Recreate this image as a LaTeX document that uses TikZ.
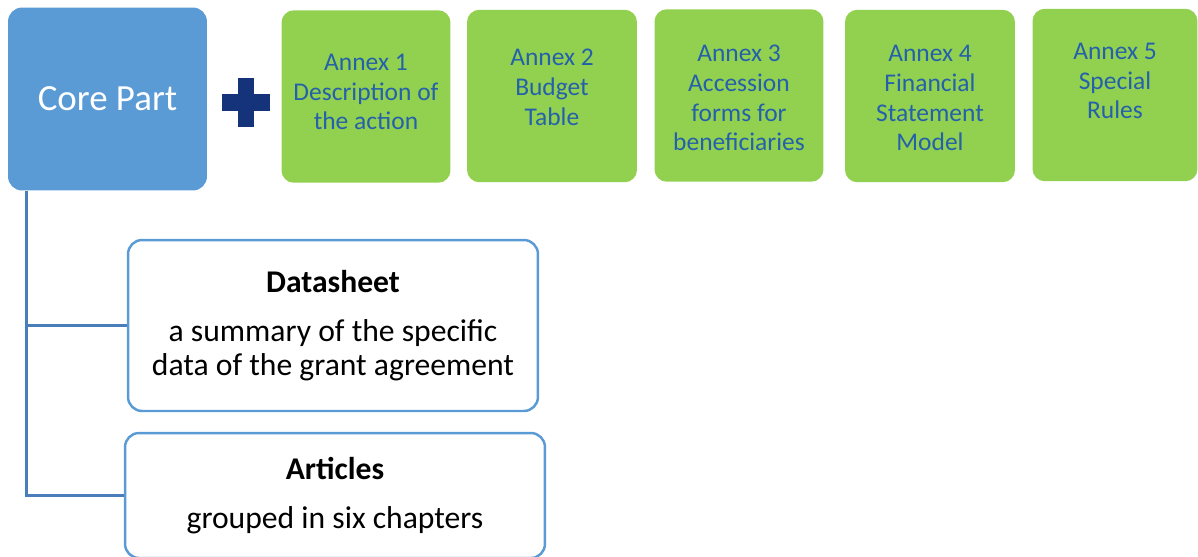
\documentclass[tikz,border=0pt]{standalone}
\usepackage{fontspec}
\setmainfont{Carlito}
\usetikzlibrary{positioning}
\definecolor{coreblue}{HTML}{5B9BD5}
\definecolor{linkblue}{HTML}{4A7EBB}
\definecolor{annexgreen}{HTML}{92D050}
\definecolor{annexink}{HTML}{2461AA}
\definecolor{plusnavy}{HTML}{15337A}
\tikzset{
	core/.style={rectangle, rounded corners=8pt, fill=coreblue, text=white, font=\fontsize{21}{25}\selectfont, minimum width=3.98cm, minimum height=3.66cm},
	annexbox/.style={rectangle, rounded corners=7pt, fill=annexgreen, minimum width=3.38cm, minimum height=3.45cm},
	annexlbl/.style={align=center, text=annexink, font=\fontsize{14.5}{17}\selectfont, inner sep=0pt},
	partbox/.style={rectangle, rounded corners=8pt, draw=coreblue, line width=1.4pt, fill=white, align=center, font=\fontsize{18}{19.3}\selectfont},
	link/.style={draw=linkblue, line width=1.6pt}
}

\begin{document}
\begin{tikzpicture}[x=0.02cm, y=-0.02cm]
	\useasboundingbox (0,0) rectangle (1198,556);
	\node[core] (core) at (107.5,99) {Core Part};
	% plus sign
	\fill[plusnavy] (238,78) rectangle (254,127);
	\fill[plusnavy] (222,94) rectangle (270,111);
	% annexes
	\node[annexbox] (a1) at (366,96.5) {};
	\node[annexbox, minimum width=3.40cm] (a2) at (552,96) {};
	\node[annexbox] (a3) at (739,95.5) {};
	\node[annexbox, minimum width=3.40cm] (a4) at (930,96) {};
	\node[annexbox, minimum width=3.30cm] (a5) at (1115,95) {};
	\node[annexlbl] (a1t) at (366,92) {Annex 1\\Description of\\the action};
	\node[annexlbl] (a2t) at (552,87) {Annex 2\\Budget\\Table};
	\node[annexlbl] (a3t) at (739,98) {Annex 3\\Accession\\forms for\\beneficiaries};
	\node[annexlbl] (a4t) at (930,98) {Annex 4\\Financial\\Statement\\Model};
	\node[annexlbl] (a5t) at (1115,81) {Annex 5\\Special\\Rules};
	% parts of the core
	\node[partbox, minimum width=8.2cm, minimum height=3.42cm] (datasheet) at (333,325.5) {\textbf{Datasheet}\\[9pt]a summary of the specific\\data of the grant agreement};
	\node[partbox, minimum width=8.4cm, minimum height=2.5cm] (articles) at (335,495.5) {\textbf{Articles}\\[9pt]grouped in six chapters};
	\draw[link] ([xshift=0.38cm]core.south west) |- (datasheet.west);
	\draw[link] ([xshift=0.38cm]core.south west) |- (articles.west);
\end{tikzpicture}
\end{document}
